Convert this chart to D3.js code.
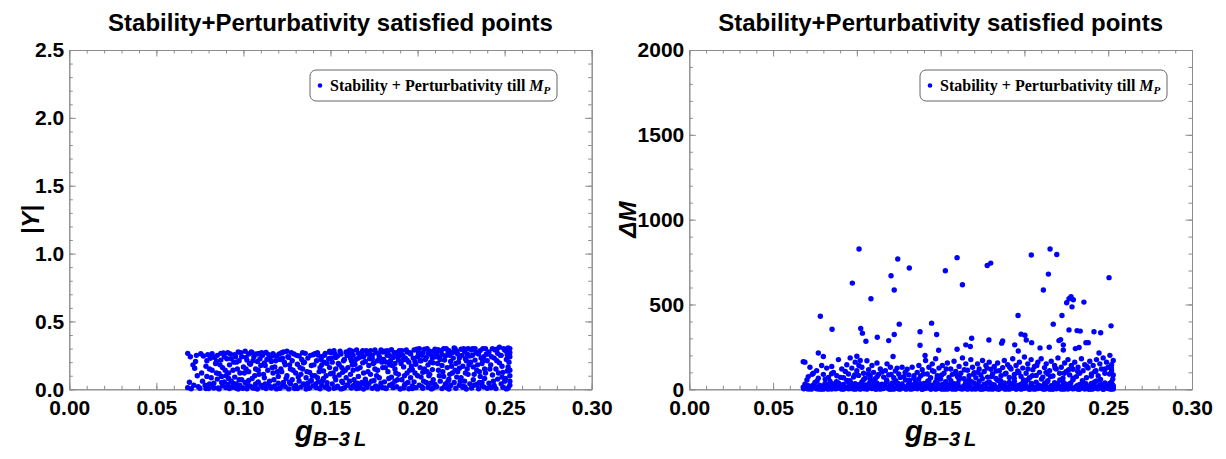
<!DOCTYPE html>
<html>
<head>
<meta charset="utf-8">
<script src="https://cdn.jsdelivr.net/npm/d3@7"></script>
<style>
  body { margin: 0; background: #fff; }
  svg { display: block; }
</style>
</head>
<body>
<svg id="chart"></svg>
<script>
// Axis ticks (labels)
const xTicks = [0, 0.05, 0.10, 0.15, 0.20, 0.25, 0.30];
const yTicksLeft = [0, 0.5, 1.0, 1.5, 2.0, 2.5];
const yTicksRight = [0, 500, 1000, 1500, 2000];

const chartTitle = 'Stability+Perturbativity satisfied points';
const legendLabel = 'Stability + Perturbativity till ';

// Left panel: |Y| vs g_{B-3L}
const yukawaPoints = [
  [0.068,0.265],[0.069,0.052],[0.068,0.012],[0.070,0.004],[0.071,0.180],[0.072,0.155],[0.073,0.250],[0.074,0.020],[0.075,0.008],[0.076,0.120],[0.077,0.245],[0.078,0.030],[0.079,0.210],[0.079,0.095],[0.080,0.006],
  [0.081,0.228],[0.082,0.262],[0.082,0.140],[0.083,0.045],[0.083,0.010],[0.084,0.190],[0.085,0.250],[0.085,0.075],[0.086,0.003],[0.086,0.115],[0.087,0.265],[0.087,0.215],[0.088,0.025],[0.088,0.160],[0.089,0.055],[0.089,0.240],[0.090,0.012],[0.090,0.100],
  [0.091,0.270],[0.091,0.035],[0.092,0.180],[0.092,0.005],[0.093,0.225],[0.093,0.060],[0.094,0.140],[0.094,0.018],[0.095,0.255],[0.095,0.090],[0.096,0.040],[0.096,0.200],[0.097,0.002],[0.097,0.275],[0.098,0.120],[0.098,0.028],[0.099,0.240],[0.099,0.070],[0.100,0.010],[0.100,0.165],[0.096,0.008],[0.094,0.045],
  [0.101,0.280],[0.101,0.050],[0.102,0.215],[0.102,0.004],[0.103,0.260],[0.103,0.130],[0.104,0.022],[0.104,0.185],[0.105,0.080],[0.105,0.270],[0.106,0.012],[0.106,0.240],[0.107,0.150],[0.107,0.040],[0.108,0.205],[0.108,0.002],[0.109,0.110],[0.109,0.265],[0.110,0.030],[0.110,0.175],[0.103,0.065],[0.107,0.008],
  [0.111,0.250],[0.111,0.015],[0.112,0.195],[0.112,0.085],[0.113,0.272],[0.113,0.005],[0.114,0.140],[0.114,0.035],[0.115,0.230],[0.115,0.060],[0.116,0.010],[0.116,0.205],[0.117,0.120],[0.117,0.262],[0.118,0.025],[0.118,0.165],[0.119,0.003],[0.119,0.245],[0.120,0.095],[0.120,0.045],
  [0.121,0.220],[0.121,0.008],[0.122,0.270],[0.122,0.130],[0.123,0.050],[0.123,0.275],[0.124,0.180],[0.124,0.020],[0.125,0.280],[0.125,0.100],[0.126,0.003],[0.126,0.235],[0.127,0.150],[0.127,0.040],[0.128,0.210],[0.128,0.070],[0.129,0.012],[0.129,0.260],[0.130,0.120],[0.130,0.028],
  [0.131,0.185],[0.131,0.005],[0.132,0.245],[0.132,0.060],[0.133,0.110],[0.133,0.018],[0.134,0.270],[0.134,0.150],[0.135,0.035],[0.135,0.200],[0.136,0.002],[0.136,0.085],[0.137,0.230],[0.137,0.045],[0.138,0.125],[0.138,0.010],[0.139,0.175],[0.139,0.065],[0.140,0.255],[0.140,0.025],
  [0.141,0.262],[0.141,0.100],[0.142,0.012],[0.142,0.210],[0.143,0.250],[0.143,0.055],[0.144,0.160],[0.144,0.004],[0.145,0.240],[0.145,0.030],[0.146,0.135],[0.146,0.080],[0.147,0.265],[0.147,0.015],[0.148,0.190],[0.148,0.048],[0.149,0.225],[0.149,0.002],[0.150,0.115],[0.150,0.270],[0.145,0.180],[0.148,0.020],
  [0.151,0.040],[0.151,0.200],[0.152,0.008],[0.152,0.285],[0.153,0.150],[0.153,0.070],[0.154,0.245],[0.154,0.022],[0.155,0.105],[0.155,0.180],[0.156,0.003],[0.156,0.260],[0.157,0.125],[0.157,0.050],[0.158,0.220],[0.158,0.012],[0.159,0.085],[0.159,0.275],[0.160,0.160],[0.160,0.030],[0.153,0.235],[0.157,0.005],
  [0.161,0.288],[0.161,0.060],[0.162,0.210],[0.162,0.010],[0.163,0.140],[0.163,0.250],[0.164,0.035],[0.164,0.185],[0.165,0.005],[0.165,0.290],[0.166,0.095],[0.166,0.230],[0.167,0.018],[0.167,0.160],[0.168,0.270],[0.168,0.050],[0.169,0.120],[0.169,0.002],[0.170,0.205],[0.170,0.075],[0.163,0.025],[0.166,0.265],[0.169,0.240],
  [0.171,0.260],[0.171,0.015],[0.172,0.175],[0.172,0.040],[0.173,0.285],[0.173,0.110],[0.174,0.008],[0.174,0.225],[0.175,0.065],[0.175,0.195],[0.176,0.270],[0.176,0.025],[0.177,0.140],[0.177,0.003],[0.178,0.240],[0.178,0.085],[0.179,0.290],[0.179,0.045],[0.180,0.160],[0.180,0.012],[0.174,0.250],[0.177,0.210],[0.180,0.275],
  [0.181,0.280],[0.181,0.055],[0.182,0.200],[0.182,0.005],[0.183,0.130],[0.183,0.265],[0.184,0.030],[0.184,0.180],[0.185,0.090],[0.185,0.292],[0.186,0.012],[0.186,0.235],[0.187,0.150],[0.187,0.060],[0.188,0.270],[0.188,0.020],[0.189,0.110],[0.189,0.215],[0.190,0.002],[0.190,0.250],[0.184,0.245],[0.187,0.190],
  [0.191,0.285],[0.191,0.070],[0.192,0.165],[0.192,0.010],[0.193,0.230],[0.193,0.040],[0.194,0.275],[0.194,0.120],[0.195,0.004],[0.195,0.200],[0.196,0.085],[0.196,0.260],[0.197,0.025],[0.197,0.145],[0.198,0.290],[0.198,0.055],[0.199,0.185],[0.199,0.012],[0.200,0.240],[0.200,0.100],[0.194,0.215],[0.197,0.005],
  [0.201,0.300],[0.201,0.030],[0.202,0.210],[0.202,0.090],[0.203,0.270],[0.203,0.008],[0.204,0.150],[0.204,0.295],[0.205,0.050],[0.205,0.235],[0.206,0.015],[0.206,0.180],[0.207,0.280],[0.207,0.110],[0.208,0.003],[0.208,0.250],[0.209,0.070],[0.209,0.195],[0.210,0.295],[0.210,0.035],[0.203,0.125],[0.206,0.265],[0.209,0.010],
  [0.211,0.260],[0.211,0.020],[0.212,0.140],[0.212,0.290],[0.213,0.060],[0.213,0.220],[0.214,0.005],[0.214,0.175],[0.215,0.300],[0.215,0.095],[0.216,0.040],[0.216,0.245],[0.217,0.012],[0.217,0.160],[0.218,0.285],[0.218,0.075],[0.219,0.205],[0.219,0.028],[0.220,0.120],[0.220,0.270],[0.214,0.255],[0.218,0.002],
  [0.221,0.305],[0.221,0.050],[0.222,0.190],[0.222,0.008],[0.223,0.260],[0.223,0.130],[0.224,0.030],[0.224,0.230],[0.225,0.295],[0.225,0.085],[0.226,0.015],[0.226,0.170],[0.227,0.280],[0.227,0.060],[0.228,0.210],[0.228,0.002],[0.229,0.110],[0.229,0.300],[0.230,0.040],[0.230,0.245],[0.224,0.155],[0.227,0.020],
  [0.231,0.290],[0.231,0.010],[0.232,0.165],[0.232,0.070],[0.233,0.300],[0.233,0.215],[0.234,0.035],[0.234,0.140],[0.235,0.260],[0.235,0.004],[0.236,0.095],[0.236,0.285],[0.237,0.050],[0.237,0.190],[0.238,0.018],[0.238,0.240],[0.239,0.120],[0.239,0.300],[0.240,0.008],[0.240,0.210],[0.234,0.270],[0.237,0.025],
  [0.241,0.275],[0.241,0.045],[0.242,0.180],[0.242,0.012],[0.243,0.300],[0.243,0.105],[0.244,0.230],[0.244,0.028],[0.245,0.150],[0.245,0.005],[0.246,0.265],[0.246,0.075],[0.247,0.310],[0.247,0.195],[0.248,0.040],[0.248,0.250],[0.249,0.015],[0.249,0.125],[0.250,0.290],[0.250,0.060],[0.251,0.220],[0.251,0.003],[0.252,0.305],[0.252,0.165],[0.253,0.270],[0.253,0.030],[0.253,0.100],[0.252,0.010],[0.253,0.240],[0.251,0.280]
];
const yukawaPointsB = [
  [0.0695,0.240],[0.0715,0.030],[0.0725,0.205],[0.0735,0.100],[0.0755,0.262],[0.0765,0.060],[0.0785,0.170],[0.0795,0.255],[0.0805,0.040],[0.0785,0.005],
  [0.0805,0.150],[0.0815,0.085],[0.0825,0.020],[0.0835,0.235],[0.0845,0.120],[0.0855,0.010],[0.0865,0.180],[0.0875,0.050],[0.0885,0.268],[0.0895,0.140],[0.0845,0.205],[0.0875,0.095],
  [0.0905,0.225],[0.0915,0.120],[0.0925,0.260],[0.0935,0.015],[0.0945,0.200],[0.0955,0.035],[0.0965,0.150],[0.0975,0.070],[0.0985,0.270],[0.0995,0.008],[0.0915,0.080],[0.0975,0.210],[0.0955,0.240],
  [0.1005,0.120],[0.1015,0.235],[0.1025,0.030],[0.1035,0.190],[0.1045,0.275],[0.1055,0.010],[0.1065,0.100],[0.1075,0.260],[0.1085,0.055],[0.1095,0.225],[0.1015,0.150],[0.1055,0.210],[0.1085,0.140],
  [0.1105,0.270],[0.1115,0.110],[0.1125,0.040],[0.1135,0.220],[0.1145,0.255],[0.1155,0.020],[0.1165,0.160],[0.1175,0.070],[0.1185,0.210],[0.1195,0.130],[0.1125,0.175],[0.1165,0.245],
  [0.1205,0.260],[0.1215,0.150],[0.1225,0.025],[0.1235,0.200],[0.1245,0.080],[0.1255,0.240],[0.1265,0.050],[0.1275,0.270],[0.1285,0.140],[0.1295,0.005],[0.1225,0.230],[0.1265,0.180],
  [0.1305,0.250],[0.1315,0.090],[0.1325,0.160],[0.1335,0.220],[0.1345,0.040],[0.1355,0.265],[0.1365,0.130],[0.1375,0.010],[0.1385,0.250],[0.1395,0.100],[0.1345,0.195],[0.1385,0.060],
  [0.1405,0.180],[0.1415,0.040],[0.1425,0.270],[0.1435,0.130],[0.1445,0.220],[0.1455,0.065],[0.1465,0.250],[0.1475,0.100],[0.1485,0.010],[0.1495,0.160],[0.1425,0.085],[0.1465,0.200],[0.1495,0.280],
  [0.1505,0.230],[0.1515,0.120],[0.1525,0.260],[0.1535,0.015],[0.1545,0.190],[0.1555,0.280],[0.1565,0.060],[0.1575,0.210],[0.1585,0.140],[0.1595,0.030],[0.1525,0.090],[0.1565,0.160],[0.1595,0.250],
  [0.1605,0.255],[0.1615,0.110],[0.1625,0.280],[0.1635,0.070],[0.1645,0.220],[0.1655,0.150],[0.1665,0.010],[0.1675,0.240],[0.1685,0.195],[0.1695,0.040],[0.1625,0.180],[0.1655,0.045],[0.1685,0.285],[0.1615,0.230],
  [0.1705,0.285],[0.1715,0.130],[0.1725,0.225],[0.1735,0.060],[0.1745,0.190],[0.1755,0.290],[0.1765,0.100],[0.1775,0.265],[0.1785,0.020],[0.1795,0.200],[0.1725,0.260],[0.1755,0.150],[0.1785,0.230],[0.1705,0.050],
  [0.1805,0.220],[0.1815,0.160],[0.1825,0.285],[0.1835,0.080],[0.1845,0.210],[0.1855,0.040],[0.1865,0.270],[0.1875,0.120],[0.1885,0.240],[0.1895,0.285],[0.1825,0.250],[0.1855,0.175],[0.1885,0.070],[0.1815,0.010],
  [0.1905,0.190],[0.1915,0.250],[0.1925,0.100],[0.1935,0.290],[0.1945,0.050],[0.1955,0.270],[0.1965,0.170],[0.1975,0.230],[0.1985,0.120],[0.1995,0.295],[0.1925,0.030],[0.1955,0.140],[0.1985,0.205],[0.1915,0.215],
  [0.2005,0.270],[0.2015,0.160],[0.2025,0.250],[0.2035,0.060],[0.2045,0.220],[0.2055,0.300],[0.2065,0.100],[0.2075,0.200],[0.2085,0.145],[0.2095,0.280],[0.2025,0.020],[0.2055,0.130],[0.2085,0.230],[0.2015,0.210],[0.2075,0.045],
  [0.2105,0.240],[0.2115,0.190],[0.2125,0.100],[0.2135,0.280],[0.2145,0.130],[0.2155,0.215],[0.2165,0.300],[0.2175,0.060],[0.2185,0.250],[0.2195,0.170],[0.2125,0.235],[0.2155,0.020],[0.2185,0.110],[0.2115,0.290],[0.2175,0.275],
  [0.2205,0.230],[0.2215,0.140],[0.2225,0.280],[0.2235,0.200],[0.2245,0.060],[0.2255,0.250],[0.2265,0.300],[0.2275,0.120],[0.2285,0.260],[0.2295,0.180],[0.2225,0.090],[0.2255,0.025],[0.2285,0.150],[0.2215,0.300],[0.2275,0.225],
  [0.2305,0.200],[0.2315,0.250],[0.2325,0.110],[0.2335,0.270],[0.2345,0.180],[0.2355,0.050],[0.2365,0.230],[0.2375,0.300],[0.2385,0.150],[0.2395,0.260],[0.2325,0.030],[0.2355,0.130],[0.2385,0.080],[0.2315,0.300],[0.2375,0.210],
  [0.2405,0.260],[0.2415,0.150],[0.2425,0.240],[0.2435,0.060],[0.2445,0.290],[0.2455,0.210],[0.2465,0.120],[0.2475,0.250],[0.2485,0.170],[0.2495,0.300],[0.2505,0.080],[0.2515,0.255],[0.2525,0.200],[0.2530,0.140],[0.2425,0.015],[0.2455,0.295],[0.2485,0.090],[0.2515,0.135],[0.2530,0.300],[0.2530,0.060]
];

// Right panel: Delta M vs g_{B-3L}  (dense floor, mid band, sparse high points)
const deltaMLow = [
  [0.068,12],[0.069,30],[0.070,5],[0.071,2],[0.072,18],[0.073,8],[0.075,40],[0.076,3],[0.078,22],[0.079,10],[0.080,1],[0.081,35],[0.082,6],[0.083,15],[0.084,48],[0.085,2],[0.086,25],[0.087,9],[0.088,4],[0.089,38],[0.090,14],[0.091,1],[0.092,28],[0.093,7],[0.094,52],[0.095,3],[0.096,20],[0.097,11],[0.098,2],[0.099,33],[0.100,6],[0.101,18],[0.102,1],[0.103,44],[0.104,9],[0.105,26],[0.106,3],[0.107,14],[0.108,58],[0.109,5],[0.110,21],[0.111,2],[0.112,36],[0.113,10],[0.114,1],[0.115,30],[0.116,7],[0.117,16],[0.118,46],[0.119,3],[0.120,24],[0.121,12],[0.122,1],[0.123,40],[0.124,6],[0.125,19],[0.126,2],[0.127,32],[0.128,9],[0.129,55],[0.130,4],[0.131,15],[0.132,1],[0.133,27],[0.134,8],[0.135,42],[0.136,3],[0.137,20],[0.138,11],[0.139,1],[0.140,35],[0.141,6],[0.142,17],[0.143,50],[0.144,2],[0.145,24],[0.146,9],[0.147,1],[0.148,38],[0.149,13],[0.150,4],[0.151,29],[0.152,7],[0.153,45],[0.154,2],[0.155,18],[0.156,10],[0.157,1],[0.158,33],[0.159,5],[0.160,22],[0.161,58],[0.162,3],[0.163,14],[0.164,8],[0.165,40],[0.166,1],[0.167,26],[0.168,11],[0.169,4],[0.170,36],[0.171,2],[0.172,19],[0.173,48],[0.174,7],[0.175,1],[0.176,30],[0.177,12],[0.178,3],[0.179,44],[0.180,16],[0.181,1],[0.182,25],[0.183,6],[0.184,53],[0.185,2],[0.186,20],[0.187,9],[0.188,38],[0.189,4],[0.190,14],[0.191,1],[0.192,31],[0.193,8],[0.194,47],[0.195,3],[0.196,23],[0.197,11],[0.198,1],[0.199,36],[0.200,6],[0.201,18],[0.202,56],[0.203,2],[0.204,28],[0.205,10],[0.206,1],[0.207,42],[0.208,5],[0.209,21],[0.210,13],[0.211,2],[0.212,34],[0.213,7],[0.214,50],[0.215,1],[0.216,17],[0.217,9],[0.218,39],[0.219,3],[0.220,26],[0.221,12],[0.222,1],[0.223,45],[0.224,6],[0.225,20],[0.226,2],[0.227,32],[0.228,10],[0.229,57],[0.230,4],[0.231,15],[0.232,1],[0.233,28],[0.234,8],[0.235,41],[0.236,2],[0.237,22],[0.238,12],[0.239,1],[0.240,35],[0.241,6],[0.242,18],[0.243,49],[0.244,3],[0.245,25],[0.246,9],[0.247,1],[0.248,37],[0.249,14],[0.250,4],[0.251,30],[0.252,7],[0.253,20],[0.253,2],[0.252,44],
  [0.0705,22],[0.0745,14],[0.0775,1],[0.0835,28],[0.0875,12],[0.0925,5],[0.0965,38],[0.1005,25],[0.1045,3],[0.1085,12],[0.1125,6],[0.1165,29],[0.1205,2],[0.1245,34],[0.1285,15],[0.1325,8],[0.1365,24],[0.1405,4],[0.1445,12],[0.1485,20],[0.1525,1],[0.1565,36],[0.1605,8],[0.1645,24],[0.1685,2],[0.1725,12],[0.1765,5],[0.1805,30],[0.1845,11],[0.1885,1],[0.1925,18],[0.1965,6],[0.2005,40],[0.2045,3],[0.2085,14],[0.2125,25],[0.2165,1],[0.2205,10],[0.2245,32],[0.2285,5],[0.2325,20],[0.2365,9],[0.2405,1],[0.2445,16],[0.2485,28],[0.2525,11]
];
const deltaMLowB = [
  [0.0683,3],[0.0697,18],[0.0712,9],[0.0728,1],[0.0741,26],[0.0757,6],[0.0769,15],[0.0788,2],[0.0803,20],[0.0817,8],[0.0828,1],[0.0842,14],[0.0858,31],[0.0871,3],[0.0884,17],[0.0897,7],[0.0911,24],[0.0922,2],[0.0938,12],[0.0951,40],[0.0963,5],[0.0979,19],[0.0992,1],[0.1008,11],[0.1021,30],[0.1033,6],[0.1048,16],[0.1061,2],[0.1073,35],[0.1089,8],[0.1102,22],[0.1117,1],[0.1129,13],[0.1142,27],[0.1158,4],[0.1171,18],[0.1183,9],[0.1197,1],[0.1212,38],[0.1226,6],[0.1238,15],[0.1251,2],[0.1267,23],[0.1279,10],[0.1293,1],[0.1308,29],[0.1319,12],[0.1334,3],[0.1348,19],[0.1361,7],[0.1377,33],[0.1389,1],[0.1402,16],[0.1416,9],[0.1429,26],[0.1443,2],[0.1457,14],[0.1469,42],[0.1482,5],[0.1496,21],[0.1508,1],[0.1522,11],[0.1537,28],[0.1549,4],[0.1562,17],[0.1577,8],[0.1589,1],[0.1603,34],[0.1618,13],[0.1631,2],[0.1643,22],[0.1657,6],[0.1672,16],[0.1684,45],[0.1698,3],[0.1711,11],[0.1724,27],[0.1737,1],[0.1751,19],[0.1764,8],[0.1778,37],[0.1791,2],[0.1804,14],[0.1818,24],[0.1831,5],[0.1843,1],[0.1857,31],[0.1869,10],[0.1883,18],[0.1897,3],[0.1909,41],[0.1922,7],[0.1938,22],[0.1951,1],[0.1963,13],[0.1977,29],[0.1989,4],[0.2003,16],[0.2017,9],[0.2029,1],[0.2042,35],[0.2056,12],[0.2068,3],[0.2082,25],[0.2094,7],[0.2107,18],[0.2121,1],[0.2134,43],[0.2147,10],[0.2159,21],[0.2172,2],[0.2186,14],[0.2198,31],[0.2211,6],[0.2224,17],[0.2237,1],[0.2251,26],[0.2263,9],[0.2277,38],[0.2289,3],[0.2302,12],[0.2316,23],[0.2329,1],[0.2342,16],[0.2354,7],[0.2367,33],[0.2381,2],[0.2393,19],[0.2406,11],[0.2419,44],[0.2432,4],[0.2446,14],[0.2458,27],[0.2471,1],[0.2484,20],[0.2497,8],[0.2509,35],[0.2521,3],[0.2530,15],[0.2526,26],[0.2514,1]
];
const deltaMMid = [
  [0.069,160],[0.071,75],[0.072,130],[0.074,95],[0.076,110],[0.077,65],[0.079,140],[0.080,88],[0.082,125],[0.083,70],[0.085,135],[0.086,100],[0.088,80],[0.089,175],[0.091,120],[0.092,68],[0.094,145],[0.095,90],[0.096,185],[0.097,125],[0.098,72],[0.099,160],[0.100,110],[0.101,82],[0.102,170],[0.103,130],[0.104,95],[0.105,66],[0.106,168],[0.107,115],[0.108,78],[0.109,140],[0.110,100],[0.111,62],[0.112,155],[0.113,88],[0.114,120],[0.116,72],[0.117,110],[0.118,150],[0.119,85],[0.120,130],[0.122,68],[0.123,108],[0.124,125],[0.125,90],[0.127,130],[0.128,75],[0.130,118],[0.131,85],[0.133,130],[0.134,65],[0.136,100],[0.137,140],[0.138,78],[0.139,115],[0.141,170],[0.142,90],[0.143,130],[0.144,68],[0.145,150],[0.146,105],[0.147,180],[0.148,80],[0.149,125],[0.150,60],[0.151,140],[0.152,95],[0.154,155],[0.155,70],[0.156,120],[0.157,88],[0.158,165],[0.159,105],[0.160,75],[0.161,135],[0.162,95],[0.163,185],[0.164,62],[0.165,150],[0.166,112],[0.167,80],[0.168,175],[0.169,130],[0.170,98],[0.171,68],[0.172,150],[0.173,120],[0.174,85],[0.175,170],[0.176,105],[0.177,140],[0.178,72],[0.179,160],[0.180,118],[0.181,90],[0.182,135],[0.183,64],[0.184,155],[0.185,110],[0.186,80],[0.187,128],[0.188,170],[0.189,95],[0.190,145],[0.191,70],[0.192,120],[0.193,180],[0.194,88],[0.195,140],[0.196,108],[0.197,160],[0.198,76],[0.199,125],[0.200,190],[0.201,95],[0.202,150],[0.203,68],[0.204,175],[0.205,115],[0.206,135],[0.207,82],[0.208,160],[0.209,100],[0.210,180],[0.211,72],[0.212,128],[0.213,150],[0.214,90],[0.215,110],[0.216,165],[0.217,78],[0.218,140],[0.219,120],[0.220,185],[0.221,95],[0.222,130],[0.223,66],[0.224,155],[0.225,105],[0.226,175],[0.227,85],[0.228,140],[0.229,118],[0.230,160],[0.231,75],[0.232,130],[0.233,95],[0.234,180],[0.235,110],[0.236,145],[0.237,68],[0.238,125],[0.239,165],[0.240,90],[0.241,140],[0.242,105],[0.243,175],[0.244,80],[0.245,150],[0.246,120],[0.247,185],[0.248,95],[0.249,160],[0.250,130],[0.251,200],[0.252,110],[0.253,170],[0.252,145],[0.253,85],
  [0.0702,55],[0.0733,88],[0.0762,48],[0.0811,60],[0.0849,92],[0.0878,45],[0.0903,70],[0.0931,105],[0.0958,50],[0.0987,85],[0.1012,140],[0.1041,58],[0.1068,90],[0.1094,48],[0.1121,75],[0.1149,102],[0.1177,55],[0.1204,88],[0.1232,50],[0.1259,70],[0.1288,100],[0.1314,52],[0.1341,80],[0.1369,60],[0.1397,90],[0.1423,48],[0.1451,110],[0.1478,62],[0.1506,85],[0.1533,120],[0.1561,50],[0.1588,95],[0.1614,70],[0.1641,115],[0.1669,55],[0.1696,88],[0.1722,100],[0.1749,62],[0.1777,125],[0.1803,75],[0.1831,108],[0.1858,50],[0.1884,90],[0.1912,130],[0.1939,65],[0.1967,98],[0.1994,55],[0.2021,120],[0.2047,80],[0.2074,140],[0.2102,60],[0.2129,100],[0.2156,75],[0.2183,125],[0.2211,55],[0.2238,95],[0.2264,115],[0.2291,65],[0.2318,105],[0.2346,50],[0.2373,135],[0.2399,78],[0.2427,110],[0.2454,58],[0.2481,120],[0.2508,90],[0.2527,60],[0.2519,125]
];
const deltaMHigh = [
  [0.1013,827],[0.1244,768],[0.1313,715],[0.1204,669],[0.0973,626],[0.1223,585],[0.1084,534],[0.0782,431],[0.0852,354],[0.1023,358],[0.1033,331],[0.1253,384],[0.1223,323],[0.1122,307],[0.1190,287],[0.1054,283],[0.0770,214],[0.0800,193],[0.1000,195],[0.1216,193],[0.0680,163],
  [0.1598,776],[0.1528,699],[0.1630,616],[0.1778,730],[0.1799,744],[0.2041,792],[0.2153,827],[0.2193,795],[0.2143,679],[0.2113,585],[0.2505,658],
  [0.2252,510],[0.2266,534],[0.2278,546],[0.2292,528],[0.2284,486],[0.2355,514],[0.2224,435],[0.2172,384],[0.1962,435],[0.1446,390],[0.1476,323],[0.1377,339],[0.1377,260],
  [0.1788,291],[0.1864,272],[0.1870,285],[0.1980,325],[0.2003,319],[0.2011,291],[0.2043,275],[0.1942,262],[0.1685,301],[0.1650,262],[0.1677,252],[0.1598,236],[0.1488,230],[0.1407,199],
  [0.2206,287],[0.2216,293],[0.2232,262],[0.2266,350],[0.2314,346],[0.2333,343],[0.2415,339],[0.2455,333],[0.2517,374],[0.2367,275],[0.2381,275],[0.2304,240],[0.2326,246],[0.2093,244],[0.2148,248],[0.2232,232],[0.1963,226],[0.2445,214]
];

const W = 1226, H = 459;
const blue = '#0000ff';
const frameColor = '#8c8c8c';
const sansFont = '"Liberation Sans Narrow", "Arial Narrow", "Liberation Sans", Arial, sans-serif';
const serifFont = '"Liberation Serif", "Times New Roman", serif';

const svg = d3.select('#chart').attr('width', W).attr('height', H);

function drawPanel(cfg) {
  const x = d3.scaleLinear().domain([0, 0.3]).range([cfg.left, cfg.right]);
  const y = d3.scaleLinear().domain(cfg.yDomain).range([cfg.bottom, cfg.top]);
  const g = svg.append('g');

  const xMinor = d3.range(0, 0.3001, 0.01);
  const yMinor = d3.range(cfg.yDomain[0], cfg.yDomain[1] + cfg.yMinorStep / 2, cfg.yMinorStep);

  // Frame: four axes with inward ticks
  const styleAxis = sel => {
    sel.selectAll('.domain').attr('stroke', frameColor).attr('stroke-width', 1);
    sel.selectAll('.tick line').attr('stroke', frameColor).attr('stroke-width', 1);
  };
  const addAxis = (axis, tx, ty, labels) => {
    const a = g.append('g').attr('transform', `translate(${tx},${ty})`).call(axis);
    styleAxis(a);
    if (!labels) a.selectAll('.tick text').remove();
    return a;
  };

  // minor ticks
  addAxis(d3.axisBottom(x).tickValues(xMinor).tickSizeInner(-3.5).tickSizeOuter(0), 0, cfg.bottom, false);
  addAxis(d3.axisTop(x).tickValues(xMinor).tickSizeInner(-3.5).tickSizeOuter(0), 0, cfg.top, false);
  addAxis(d3.axisLeft(y).tickValues(yMinor).tickSizeInner(-3.5).tickSizeOuter(0), cfg.left, 0, false);
  addAxis(d3.axisRight(y).tickValues(yMinor).tickSizeInner(-3.5).tickSizeOuter(0), cfg.right, 0, false);

  // major ticks
  const bx = addAxis(d3.axisBottom(x).tickValues(xTicks).tickFormat(d3.format('.2f'))
    .tickSizeInner(-6.5).tickSizeOuter(0).tickPadding(11), 0, cfg.bottom, true);
  bx.selectAll('.tick text').attr('font-size', 21).attr('fill', '#000').attr('font-family', sansFont)
    .attr('font-weight', 'bold').attr('dy', '0.72em');
  addAxis(d3.axisTop(x).tickValues(xTicks).tickSizeInner(-6.5).tickSizeOuter(0), 0, cfg.top, false);
  const ly = addAxis(d3.axisLeft(y).tickValues(cfg.yTicks).tickFormat(d3.format(cfg.yFormat))
    .tickSizeInner(-6.5).tickSizeOuter(0).tickPadding(5), cfg.left, 0, true);
  ly.selectAll('.tick text').attr('font-size', 21).attr('fill', '#000').attr('font-family', sansFont)
    .attr('font-weight', 'bold');
  addAxis(d3.axisRight(y).tickValues(cfg.yTicks).tickSizeInner(-6.5).tickSizeOuter(0), cfg.right, 0, false);

  // points
  g.append('g').selectAll('circle').data(cfg.points).join('circle')
    .attr('cx', d => x(d[0])).attr('cy', d => y(d[1]))
    .attr('r', 2.7).attr('fill', blue);

  const cx = (cfg.left + cfg.right) / 2;
  const cy = (cfg.top + cfg.bottom) / 2;

  // title
  g.append('text').attr('x', cx).attr('y', 31).attr('text-anchor', 'middle')
    .attr('font-family', sansFont).attr('font-weight', 'bold').attr('font-size', 24)
    .text(chartTitle);

  // y label
  g.append('text').attr('transform', `translate(${cfg.yLabelX},${cy}) rotate(-90)`)
    .attr('text-anchor', 'middle').attr('font-family', sansFont).attr('font-weight', 'bold')
    .attr('font-style', 'italic').attr('font-size', 24)
    .text(cfg.yLabel);

  // x label  g_{B-3 L}
  const xl = g.append('text').attr('x', cx).attr('y', 441).attr('text-anchor', 'middle')
    .attr('font-family', sansFont).attr('font-weight', 'bold').attr('font-style', 'italic');
  xl.append('tspan').attr('font-size', 29).text('g');
  xl.append('tspan').attr('font-size', 20).attr('dy', 5).text('B\u22123\u2009L');

  // legend
  const lg = g.append('g').attr('transform', `translate(${cfg.legendX},70)`);
  lg.append('rect').attr('width', 247).attr('height', 31).attr('rx', 6)
    .attr('fill', '#fff').attr('stroke', '#666').attr('stroke-width', 1);
  lg.append('circle').attr('cx', 10).attr('cy', 15.5).attr('r', 2.3).attr('fill', blue);
  const lt = lg.append('text').attr('x', 20).attr('y', 20.5)
    .attr('font-family', serifFont).attr('font-weight', 'bold').attr('font-size', 16);
  lt.append('tspan').text(legendLabel);
  lt.append('tspan').attr('font-style', 'italic').text('M');
  lt.append('tspan').attr('font-style', 'italic').attr('font-size', 11).attr('dy', 3).text('P');
}

drawPanel({
  left: 69.3, right: 591.7, top: 50, bottom: 389.3,
  yDomain: [0, 2.5], yTicks: yTicksLeft, yMinorStep: 0.1, yFormat: '.1f',
  points: yukawaPoints.concat(yukawaPointsB), yLabel: '|Y|', yLabelX: 39, legendX: 310
});

drawPanel({
  left: 689.3, right: 1192, top: 50, bottom: 389.3,
  yDomain: [0, 2000], yTicks: yTicksRight, yMinorStep: 100, yFormat: 'd',
  points: deltaMLow.concat(deltaMLowB, deltaMMid, deltaMHigh), yLabel: '\u0394M', yLabelX: 636, legendX: 920
});
</script>
</body>
</html>
